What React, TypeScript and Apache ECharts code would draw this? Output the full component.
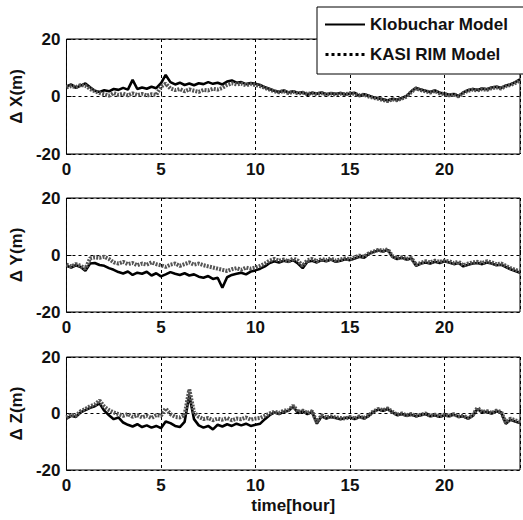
import React, { useEffect, useRef } from "react";
import * as echarts from "echarts";

// time step of the sampled traces, hours
const STEP = 0.25;

const xTickHours = [0, 5, 10, 15, 20];
const panelNames = ["Δ X(m)", "Δ Y(m)", "Δ Z(m)"];
const seriesNames = ["Klobuchar Model", "KASI RIM Model"];

// ΔX
const klobX = [
  3.5, 4.2, 3.0, 3.8, 4.5, 3.2, 2.0, 1.6,
  2.2, 1.8, 2.6, 2.3, 3.0, 2.4, 5.8, 2.6, 3.1, 2.7, 3.4, 2.9,
  4.6, 7.5, 5.0, 4.2, 4.8, 4.0, 4.5, 3.9, 4.6, 4.3, 5.0, 4.4, 4.8, 4.2, 5.2, 5.6, 4.8, 5.0, 4.3, 4.7,
  4.4, 4.0, 3.2, 2.6, 2.0, 1.6, 2.1, 1.4, 1.8, 1.2, 1.5, 0.6, 1.3, 1.0, 1.4, 0.8, 1.1, 0.9, 1.2, 0.7,
  1.0, 1.3, 0.2, 0.8, 0.3, -0.3, -0.6, -1.0, -1.4, -0.8, -1.1, -0.5, 0.2, 1.8, 3.0, 2.4, 2.0, 1.6, 2.1, 1.3,
  1.0, 0.6, 0.9, 0.2, 1.4, 2.2, 2.6, 2.3, 2.8, 2.5, 3.1, 3.4, 3.0, 3.8, 4.2, 5.0, 6.0,
];
const kasiX = [
  3.2, 3.6, 3.3, 4.0, 3.8, 2.6, 1.8, 1.2,
  0.8, 0.3, 1.2, 0.6, 1.0, 0.4, 1.1, 0.5, 0.9, 0.3, 0.8, 0.6,
  3.4, 4.5, 2.8, 2.2, 2.6, 1.8, 2.5, 2.0, 1.6, 2.3, 2.1, 2.7, 2.4, 3.0, 4.0, 4.6, 4.2, 4.5, 3.9, 4.3,
  4.0, 3.6, 3.0, 2.4, 1.8, 1.5, 1.9, 1.2, 1.6, 1.1, 1.3, 0.9, 1.1, 0.8, 1.2, 0.6, 1.0, 0.7, 1.0, 0.8,
  1.1, 0.9, 0.4, 0.6, 0.0, -0.5, -0.8, -1.2, -1.6, -1.0, -1.3, -0.7, 0.0, 1.6, 2.8, 2.2, 1.8, 1.4, 1.9, 1.1,
  0.8, 0.4, 0.7, 0.0, 1.2, 2.0, 2.4, 2.1, 2.6, 2.3, 2.9, 3.2, 2.8, 3.6, 4.0, 4.7, 5.6,
];

// ΔY
const klobY = [
  -3.8, -4.4, -3.6, -4.2, -5.5, -3.0, -2.8, -3.5,
  -3.8, -4.6, -5.2, -6.0, -6.5, -5.8, -7.0, -6.2, -6.6, -5.9, -7.2, -6.4,
  -7.5, -6.8, -6.0, -6.6, -7.0, -6.4, -7.2, -6.8, -7.6, -8.0, -7.4, -8.4, -8.0, -11.5, -7.8, -7.0, -6.6, -6.2, -6.8, -5.8,
  -5.4, -4.8, -4.0, -2.8, -2.2, -2.6, -2.0, -2.4, -1.8, -3.0, -4.6, -2.4, -2.0, -2.6, -1.8, -2.2, -1.6, -2.4, -2.0, -1.5,
  -1.8, -1.2, -0.6, -1.0, 0.4, 1.0, 1.6, 1.2, 1.8, -0.6, -1.4, -1.0, -1.6, -1.2, -3.8, -3.0, -2.6, -3.0, -2.4, -2.8,
  -2.2, -2.6, -3.2, -2.8, -4.0, -3.4, -3.0, -2.8, -3.2, -2.6, -3.0, -3.6, -3.4, -4.2, -5.0, -5.6, -6.2,
];
const kasiY = [
  -3.4, -4.0, -3.2, -3.8, -4.8, -1.2, -0.8, -1.0,
  -0.6, -1.4, -2.6, -3.0, -2.4, -3.2, -2.8, -3.6, -3.0, -3.4, -2.6, -3.2,
  -3.6, -4.2, -3.4, -3.0, -3.8, -3.2, -2.6, -3.4, -3.0, -3.6, -4.0, -4.4, -4.8, -5.2, -5.6, -5.0, -4.6, -5.2, -4.4, -4.8,
  -4.4, -3.8, -3.0, -2.0, -1.4, -2.0, -1.6, -2.2, -1.2, -2.0, -3.8, -1.8, -1.4, -2.2, -1.4, -1.8, -1.2, -2.0, -1.6, -1.2,
  -1.5, -0.8, -0.2, -0.6, 0.6, 1.2, 1.8, 1.5, 2.0, -0.4, -1.2, -0.8, -1.4, -1.0, -3.4, -2.8, -2.2, -2.6, -2.0, -2.4,
  -2.0, -2.2, -2.8, -2.4, -3.6, -3.0, -2.6, -2.4, -2.8, -2.2, -2.6, -3.2, -3.0, -3.8, -4.6, -5.2, -5.8,
];

// ΔZ
const klobZ = [
  -1.8, -0.8, -1.2, 0.4, 1.2, 2.0, 2.6, 3.6,
  1.0, -0.6, -2.0, -1.4, -3.2, -4.0, -4.6, -3.8, -4.8, -4.2, -5.0, -4.4,
  -5.2, -2.8, -3.4, -4.4, -4.8, -3.0, 6.5, -2.0, -4.2, -5.0, -4.4, -5.6, -4.0, -4.6, -3.8, -4.4, -3.6, -4.2, -3.6, -4.4,
  -4.0, -3.6, -2.0, -0.6, 0.4, -0.2, 0.6, 1.0, 2.4, 0.2, 0.8, -0.2, 0.6, -3.6, -1.0, -1.8, -1.2, -1.6, -2.0, -1.6,
  -1.4, -2.0, -1.2, -1.8, -0.8, 0.6, 1.4, 1.0, 1.6, 0.4, -0.6, -0.2, -0.8, -0.4, -1.0, -0.6, -0.2, -1.0, -0.6, -1.2,
  -0.6, -1.0, -0.4, -1.2, -1.0, -1.8, -0.8, 1.6, 0.4, 0.6, 0.0, 0.8, 0.4, -3.6, -2.2, -2.8, -3.4,
];
const kasiZ = [
  -1.4, -0.4, -0.8, 0.8, 1.6, 2.6, 3.2, 4.6,
  2.4, 1.2, 0.4, -0.2, -0.8, -0.2, -1.2, -0.6, -1.4, -0.8, -1.6, -0.6,
  -0.8, 1.8, -0.2, -1.2, -1.4, -0.6, 8.5, 0.4, -1.2, -2.0, -1.6, -2.4, -1.8, -2.2, -1.6, -2.4, -1.8, -2.0, -1.4, -2.2,
  -1.8, -1.6, -0.8, 0.0, 0.6, 0.2, 1.0, 1.2, 2.8, 0.6, 1.0, 0.2, 0.8, -3.2, -0.6, -1.4, -1.0, -1.4, -1.6, -1.8,
  -1.2, -1.8, -1.0, -1.6, -0.6, 0.8, 1.6, 1.2, 1.8, 0.6, -0.4, 0.0, -0.6, -0.2, -0.8, -0.4, 0.0, -0.8, -0.4, -1.0,
  -0.4, -0.8, -0.2, -1.0, -0.8, -1.6, -0.6, 2.0, 0.6, 0.8, 0.2, 1.0, 0.6, -3.2, -1.8, -2.4, -3.0,
];

const panels = [
  { klob: klobX, kasi: kasiX },
  { klob: klobY, kasi: kasiY },
  { klob: klobZ, kasi: kasiZ },
];

const FONT = "Liberation Sans, Arial, Helvetica, sans-serif";
const INK = "#111";

// legend glyphs: a solid bar and a row of dots
const SOLID_ICON = "path://M0,0h40v2h-40z";
const DOTTED_ICON =
  "path://M0,0h3v3h-3zM6,0h3v3h-3zM12,0h3v3h-3zM18,0h3v3h-3zM24,0h3v3h-3zM30,0h3v3h-3zM36,0h3v3h-3z";

export default function App() {
  const ref = useRef<HTMLDivElement>(null);

  useEffect(() => {
    if (!ref.current) return;
    const chart = echarts.init(ref.current, undefined, { renderer: "svg" });

    const gridTops = [39, 198, 357];
    const gridHeights = [115, 114, 113];

    const grids = gridTops.map((t, i) => ({
      left: 61,
      top: t,
      width: 464,
      height: gridHeights[i],
      show: true,
      borderColor: "#000",
      borderWidth: 1,
      backgroundColor: "transparent",
    }));

    const xAxes = gridTops.map((_, i) => ({
      type: "value",
      gridIndex: i,
      min: 0,
      max: 24,
      interval: 5,
      axisLine: { show: false },
      axisTick: { show: true, inside: true, length: 5, lineStyle: { color: "#000" } },
      axisLabel: {
        margin: 7,
        fontSize: 17,
        fontWeight: "bold",
        color: INK,
        fontFamily: FONT,
        formatter: (v: number) => (xTickHours.includes(v) ? String(v) : ""),
      },
      splitLine: { show: true, lineStyle: { color: "#000", width: 1, type: [3, 3] } },
      name: i === 2 ? "time[hour]" : "",
      nameLocation: "middle",
      nameGap: 27,
      nameTextStyle: { fontSize: 17, fontWeight: "bold", color: INK, fontFamily: FONT },
    }));

    const yAxes = gridTops.map((_, i) => ({
      type: "value",
      gridIndex: i,
      min: -20,
      max: 20,
      interval: 20,
      axisLine: { show: false },
      axisTick: { show: true, inside: true, length: 5, lineStyle: { color: "#000" } },
      axisLabel: { margin: 6, fontSize: 17, fontWeight: "bold", color: INK, fontFamily: FONT },
      splitLine: { show: true, lineStyle: { color: "#000", width: 1, type: [3, 3] } },
      name: panelNames[i],
      nameLocation: "middle",
      nameGap: 38,
      nameTextStyle: { fontSize: 17, fontWeight: "bold", color: INK, fontFamily: FONT },
    }));

    const series: any[] = [];
    panels.forEach((p, i) => {
      series.push({
        name: seriesNames[0],
        type: "line",
        xAxisIndex: i,
        yAxisIndex: i,
        symbol: "none",
        showSymbol: false,
        z: 2,
        lineStyle: { color: "#000", width: 2.6, type: "solid" },
        itemStyle: { color: "#000" },
        data: p.klob.map((v, k) => [k * STEP, v]),
      });
      series.push({
        name: seriesNames[1],
        type: "line",
        xAxisIndex: i,
        yAxisIndex: i,
        symbol: "none",
        showSymbol: false,
        z: 3,
        lineStyle: { color: "#555", width: 4, type: [2, 1.2] },
        itemStyle: { color: "#555" },
        data: p.kasi.map((v, k) => [k * STEP, v]),
      });
    });

    chart.setOption({
      animation: false,
      backgroundColor: "#fff",
      textStyle: { fontFamily: FONT },
      grid: grids,
      xAxis: xAxes,
      yAxis: yAxes,
      legend: {
        data: [
          { name: seriesNames[0], icon: SOLID_ICON, itemStyle: { color: "#000" } },
          { name: seriesNames[1], icon: DOTTED_ICON, itemStyle: { color: "#000" } },
        ],
        orient: "vertical",
        left: 317,
        top: 7,
        padding: [9, 20, 11, 8],
        itemGap: 13,
        itemWidth: 40,
        itemHeight: 3,
        backgroundColor: "#fff",
        borderColor: "#000",
        borderWidth: 1,
        borderRadius: 0,
        selectedMode: false,
        z: 10,
        textStyle: { fontSize: 17, fontWeight: "bold", color: INK, fontFamily: FONT },
      },
      series,
    });

    return () => chart.dispose();
  }, []);

  return (
    <div
      ref={ref}
      style={{ position: "fixed", left: 0, top: 0, width: 523, height: 520, background: "#fff" }}
    />
  );
}
